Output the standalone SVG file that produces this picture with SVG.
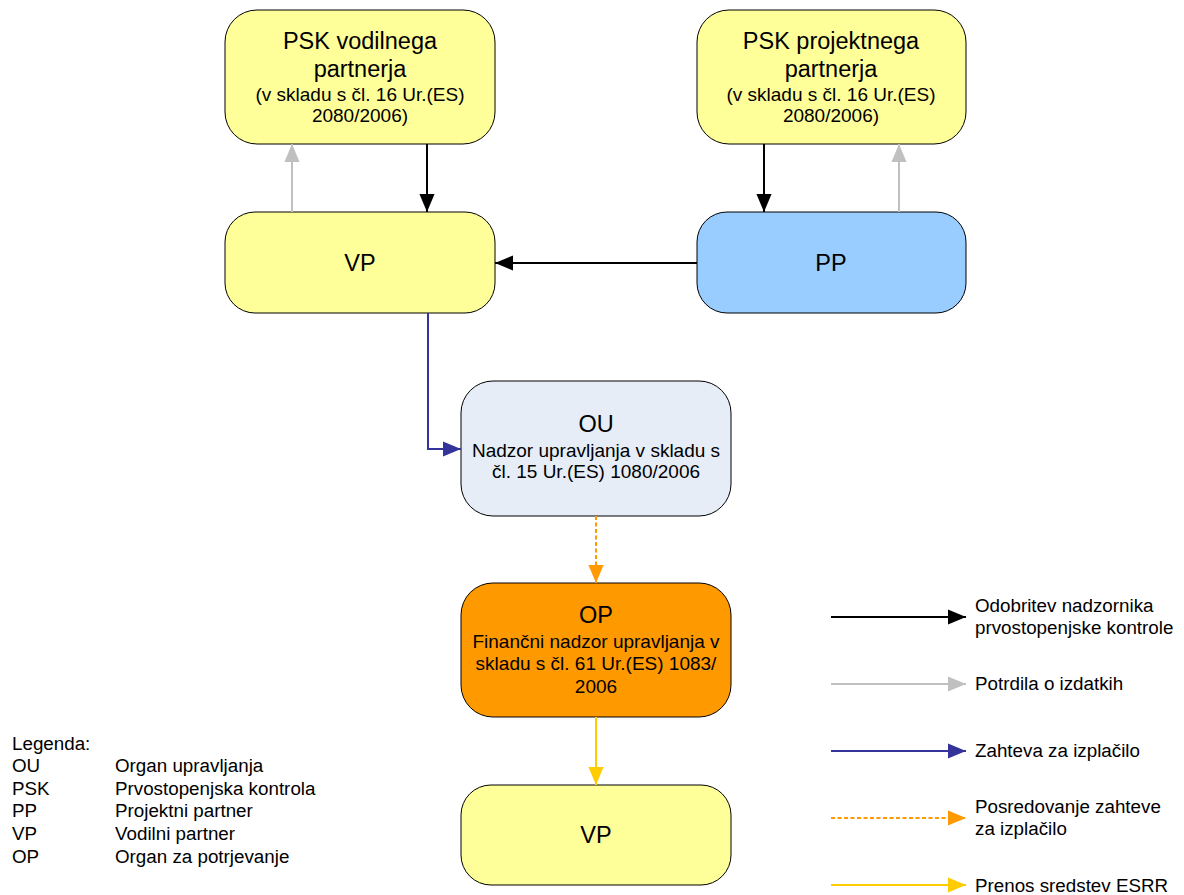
<svg xmlns="http://www.w3.org/2000/svg" width="1184" height="895" viewBox="0 0 1184 895">
<style>
text{font-family:"Liberation Sans",Arial,sans-serif;fill:#000}
.big{font-size:23.5px;text-anchor:middle}
.sm{font-size:19px;text-anchor:middle}
.lg{font-size:18.8px}
.box{stroke:#000;stroke-width:1}
.c{fill:none;stroke-width:2}
</style>
<defs>
<marker id="mb" viewBox="0 0 10 10" refX="10" refY="5" markerUnits="userSpaceOnUse" markerWidth="18" markerHeight="18" orient="auto"><path d="M0,0.8L10,5L0,9.2z" fill="#000"/></marker>
<marker id="mg" viewBox="0 0 10 10" refX="10" refY="5" markerUnits="userSpaceOnUse" markerWidth="18" markerHeight="18" orient="auto"><path d="M0,0.8L10,5L0,9.2z" fill="#C0C0C0"/></marker>
<marker id="mu" viewBox="0 0 10 10" refX="10" refY="5" markerUnits="userSpaceOnUse" markerWidth="18" markerHeight="18" orient="auto"><path d="M0,0.8L10,5L0,9.2z" fill="#333399"/></marker>
<marker id="mo" viewBox="0 0 10 10" refX="10" refY="5" markerUnits="userSpaceOnUse" markerWidth="18" markerHeight="18" orient="auto"><path d="M0,0.8L10,5L0,9.2z" fill="#FF9900"/></marker>
<marker id="my" viewBox="0 0 10 10" refX="10" refY="5" markerUnits="userSpaceOnUse" markerWidth="18" markerHeight="18" orient="auto"><path d="M0,0.8L10,5L0,9.2z" fill="#FFCC00"/></marker>
</defs>
<rect width="1184" height="895" fill="#fff"/>

<g id="psk-vp">
<rect class="box" x="225" y="10" width="270" height="134" rx="32" fill="#FFFF99"/>
<text class="big" x="360" y="49">PSK vodilnega</text>
<text class="big" x="360" y="77">partnerja</text>
<text class="sm" x="360" y="101">(v skladu s čl. 16 Ur.(ES)</text>
<text class="sm" x="360" y="122">2080/2006)</text>
</g>
<g id="psk-pp">
<rect class="box" x="697" y="10" width="269" height="134" rx="32" fill="#FFFF99"/>
<text class="big" x="831" y="49">PSK projektnega</text>
<text class="big" x="831" y="77">partnerja</text>
<text class="sm" x="831" y="101">(v skladu s čl. 16 Ur.(ES)</text>
<text class="sm" x="831" y="122">2080/2006)</text>
</g>
<g id="vp1">
<rect class="box" x="225" y="212" width="270" height="101" rx="30" fill="#FFFF99"/>
<text class="big" x="360" y="271">VP</text>
</g>
<g id="pp">
<rect class="box" x="697" y="212" width="269" height="101" rx="30" fill="#99CCFF"/>
<text class="big" x="831" y="271">PP</text>
</g>
<g id="ou">
<rect class="box" x="461" y="381" width="270" height="135" rx="32" fill="#E6EDF7"/>
<text class="big" x="596" y="432">OU</text>
<text class="sm" x="596" y="457">Nadzor upravljanja v skladu s</text>
<text class="sm" x="596" y="478">čl. 15 Ur.(ES) 1080/2006</text>
</g>
<g id="op">
<rect class="box" x="461" y="583" width="270" height="134" rx="32" fill="#FF9900"/>
<text class="big" x="596" y="623">OP</text>
<text class="sm" x="596" y="648">Finančni nadzor upravljanja v</text>
<text class="sm" x="596" y="670">skladu s čl. 61 Ur.(ES) 1083/</text>
<text class="sm" x="596" y="693">2006</text>
</g>
<g id="vp2">
<rect class="box" x="461" y="785" width="270" height="100" rx="30" fill="#FFFF99"/>
<text class="big" x="596" y="843">VP</text>
</g>

<g id="connectors">
<path class="c" d="M427,144V212" stroke="#000" marker-end="url(#mb)"/>
<path class="c" d="M292,212V144" stroke="#C0C0C0" marker-end="url(#mg)"/>
<path class="c" d="M764,144V212" stroke="#000" marker-end="url(#mb)"/>
<path class="c" d="M899,212V144" stroke="#C0C0C0" marker-end="url(#mg)"/>
<path class="c" d="M697,263H495" stroke="#000" marker-end="url(#mb)"/>
<path class="c" d="M428,313V449H461" stroke="#333399" marker-end="url(#mu)"/>
<path class="c" d="M596,516V583" stroke="#FF9900" stroke-dasharray="4,2.5" marker-end="url(#mo)"/>
<path class="c" d="M596,717V785" stroke="#FFCC00" marker-end="url(#my)"/>
</g>

<g id="legend-arrows">
<path class="c" d="M831,617H966" stroke="#000" marker-end="url(#mb)"/>
<text class="lg" x="975" y="612">Odobritev nadzornika</text>
<text class="lg" x="975" y="634">prvostopenjske kontrole</text>
<path class="c" d="M831,684H966" stroke="#C0C0C0" marker-end="url(#mg)"/>
<text class="lg" x="975" y="690">Potrdila o izdatkih</text>
<path class="c" d="M831,751H966" stroke="#333399" marker-end="url(#mu)"/>
<text class="lg" x="975" y="757">Zahteva za izplačilo</text>
<path class="c" d="M831,818H966" stroke="#FF9900" stroke-dasharray="4,2.5" marker-end="url(#mo)"/>
<text class="lg" x="975" y="813">Posredovanje zahteve</text>
<text class="lg" x="975" y="835">za izplačilo</text>
<path class="c" d="M831,885H966" stroke="#FFCC00" marker-end="url(#my)"/>
<text class="lg" x="975" y="892">Prenos sredstev ESRR</text>
</g>

<g id="legend-abbr">
<text class="lg" x="12" y="750">Legenda:</text>
<text class="lg" x="12" y="772">OU</text><text class="lg" x="115" y="772">Organ upravljanja</text>
<text class="lg" x="12" y="795">PSK</text><text class="lg" x="115" y="795">Prvostopenjska kontrola</text>
<text class="lg" x="12" y="817">PP</text><text class="lg" x="115" y="817">Projektni partner</text>
<text class="lg" x="12" y="840">VP</text><text class="lg" x="115" y="840">Vodilni partner</text>
<text class="lg" x="12" y="863">OP</text><text class="lg" x="115" y="863">Organ za potrjevanje</text>
</g>
</svg>
